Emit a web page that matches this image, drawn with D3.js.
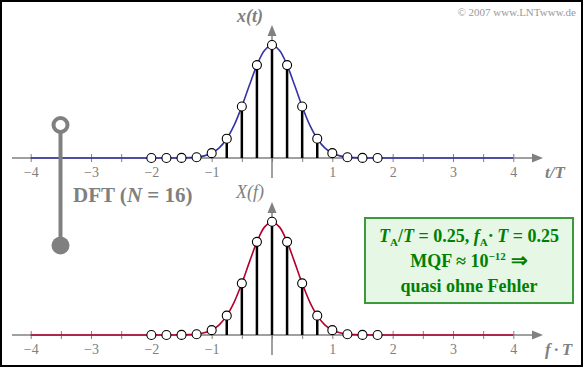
<!DOCTYPE html>
<html><head><meta charset="utf-8">
<script src="https://cdn.jsdelivr.net/npm/d3@7"></script>
<style>html,body{margin:0;padding:0;background:#fff;}svg{display:block;}</style>
</head><body>
<script>
// ---- data ----
const sampleT = [-2,-1.75,-1.5,-1.25,-1,-0.75,-0.5,-0.25,0,0.25,0.5,0.75,1,1.25,1.5,1.75];
const sampleX = [0,0,0.001,0.007,0.043,0.171,0.456,0.822,1,0.822,0.456,0.171,0.043,0.007,0.001,0];
const sampleXf = [0,0,0.001,0.007,0.043,0.171,0.456,0.822,1,0.822,0.456,0.171,0.043,0.007,0.001,0];
const curveT = [-4,-2,-1.75,-1.5,-1.375,-1.25,-1.125,-1,-0.875,-0.75,-0.625,-0.5,-0.375,-0.25,-0.125,0,0.125,0.25,0.375,0.5,0.625,0.75,0.875,1,1.125,1.25,1.375,1.5,1.75,2,4];
const curveX = [0,0,0,0.001,0.003,0.007,0.019,0.043,0.090,0.171,0.293,0.456,0.643,0.822,0.952,1,0.952,0.822,0.643,0.456,0.293,0.171,0.090,0.043,0.019,0.007,0.003,0.001,0,0,0];
const curveXf = [0,0,0,0.001,0.003,0.007,0.019,0.043,0.090,0.171,0.293,0.456,0.643,0.822,0.952,1,0.952,0.822,0.643,0.456,0.293,0.171,0.090,0.043,0.019,0.007,0.003,0.001,0,0,0];
const tickVals = [-4,-3.5,-3,-2.5,-2,-1.5,-1,-0.5,0,0.5,1,1.5,2,2.5,3,3.5,4];
const tickLabels = {"-4":"\u22124","-3":"\u22123","-2":"\u22122","-1":"\u22121","1":"1","2":"2","3":"3","4":"4"};

const W=583,H=367;
const svg=d3.select("body").append("svg").attr("width",W).attr("height",H);
const serif='"Liberation Serif","Times New Roman",serif';
const gray="#808080";

svg.append("rect").attr("x",1).attr("y",1).attr("width",W-2).attr("height",H-2)
  .attr("fill","#fff").attr("stroke","#000").attr("stroke-width",2);

const x=d3.scaleLinear().domain([-4,4]).range([30.7,513.3]);

function panel(axisY, peakY, curveVals, sampleVals, color, yLabel, yLabelStyle, xLabel, vTop, vBot){
  const y=d3.scaleLinear().domain([0,1]).range([axisY,peakY]);
  const g=svg.append("g");
  g.append("line").attr("x1",12).attr("x2",536).attr("y1",axisY).attr("y2",axisY)
    .attr("stroke",gray).attr("stroke-width",1.5);
  g.append("path").attr("d",`M543,${axisY} L532,${axisY-4.5} L532,${axisY+4.5} Z`).attr("fill",gray);
  const ax=d3.axisBottom(x).tickValues(tickVals).tickSize(4)
    .tickFormat(d=>tickLabels[String(d)]||"");
  const ag=g.append("g").attr("transform",`translate(0,${axisY})`).call(ax);
  ag.select(".domain").remove();
  ag.selectAll(".tick line").attr("y1",-4).attr("y2",4).attr("stroke",gray).attr("stroke-width",1);
  ag.selectAll(".tick text").attr("y",19).attr("dy",0).attr("fill",gray)
    .attr("font-family",serif).attr("font-size",14).attr("font-weight","normal");
  g.append("line").attr("x1",x(0)).attr("x2",x(0)).attr("y1",vBot).attr("y2",vTop+8)
    .attr("stroke",gray).attr("stroke-width",1.5);
  g.append("path").attr("d",`M${x(0)},${vTop} L${x(0)-4.5},${vTop+11} L${x(0)+4.5},${vTop+11} Z`).attr("fill",gray);
  const line=d3.line().x((d,i)=>x(curveT[i])).y(d=>y(d)).curve(d3.curveCatmullRom);
  g.append("path").datum(curveVals).attr("d",line).attr("fill","none")
    .attr("stroke",color).attr("stroke-width",1.6);
  g.selectAll(".stem").data(sampleVals).enter().append("line")
    .attr("x1",(d,i)=>x(sampleT[i])).attr("x2",(d,i)=>x(sampleT[i]))
    .attr("y1",axisY).attr("y2",d=>y(d)).attr("stroke","#000").attr("stroke-width",2.5);
  g.selectAll(".pt").data(sampleVals).enter().append("circle")
    .attr("cx",(d,i)=>x(sampleT[i])).attr("cy",d=>y(d)).attr("r",4.5)
    .attr("fill","#fff").attr("stroke","#000").attr("stroke-width",1.1);
  g.append("text").attr("x",yLabel.x).attr("y",yLabel.y).attr("font-family",serif)
    .attr("font-size",yLabel.size).attr("font-style","italic").attr("font-weight",yLabelStyle).attr("fill",gray)
    .text(yLabel.text);
  const xl=g.append("text").attr("x",545).attr("y",axisY+20).attr("font-family",serif)
    .attr("font-size",17).attr("font-style","italic").attr("font-weight","bold").attr("fill",gray);
  xLabel(xl);
}

panel(158,45,curveX,sampleX,"#3333a6",{x:237,y:22,size:18,text:"x(t)"},"bold",
  t=>t.text("t/T"),25,178);
panel(335,221.7,curveXf,sampleXf,"#b4002d",{x:236,y:198,size:18,text:"X(f)"},"normal",
  t=>{t.text("f\u2009\u00b7\u2009T");},202,355);

// DFT switch
svg.append("line").attr("x1",60.5).attr("x2",60.5).attr("y1",125).attr("y2",245)
  .attr("stroke",gray).attr("stroke-width",4);
svg.append("circle").attr("cx",60.5).attr("cy",125).attr("r",7).attr("fill","#fff")
  .attr("stroke",gray).attr("stroke-width",4);
svg.append("circle").attr("cx",60.5).attr("cy",245.5).attr("r",9).attr("fill",gray);
const dft=svg.append("text").attr("x",73).attr("y",202).attr("font-family",serif)
  .attr("font-size",21).attr("font-weight","bold").attr("fill",gray);
dft.append("tspan").text("DFT (");
dft.append("tspan").attr("font-style","italic").text("N");
dft.append("tspan").text(" = 16)");

// green info box
svg.append("rect").attr("x",365).attr("y",218).attr("width",208).attr("height",85)
  .attr("fill","#e6f7e6").attr("stroke","#3c9a3c").attr("stroke-width",2);
const green="#008000";
const fs=18;
const l1=svg.append("text").attr("x",469).attr("y",242).attr("text-anchor","middle")
  .attr("font-family",serif).attr("font-size",fs).attr("font-weight","bold").attr("fill",green);
l1.append("tspan").attr("font-style","italic").text("T");
l1.append("tspan").attr("font-size",11).attr("dy",4).text("A");
l1.append("tspan").attr("dy",-4).text("/");
l1.append("tspan").attr("font-style","italic").text("T");
l1.append("tspan").text(" = 0.25, ");
l1.append("tspan").attr("font-style","italic").text("f");
l1.append("tspan").attr("font-size",11).attr("dy",4).text("A");
l1.append("tspan").attr("dy",-4).text("\u00b7\u2009");
l1.append("tspan").attr("font-style","italic").text("T");
l1.append("tspan").text(" = 0.25");
const l2=svg.append("text").attr("x",469).attr("y",267).attr("text-anchor","middle")
  .attr("font-family",serif).attr("font-size",fs).attr("font-weight","bold").attr("fill",green);
l2.append("tspan").text("MQF \u2248 10");
l2.append("tspan").attr("font-size",11).attr("dy",-7).text("\u221212");
l2.append("tspan").attr("dy",7).attr("font-size",20).text(" \u21d2");
svg.append("text").attr("x",469).attr("y",292).attr("text-anchor","middle")
  .attr("font-family",serif).attr("font-size",fs).attr("font-weight","bold").attr("fill",green)
  .text("quasi ohne Fehler");

// copyright
svg.append("text").attr("x",576).attr("y",16).attr("text-anchor","end")
  .attr("font-family",serif).attr("font-size",11).attr("fill","#999").text("\u00a9 2007 www.LNTwww.de");
</script>
</body></html>
